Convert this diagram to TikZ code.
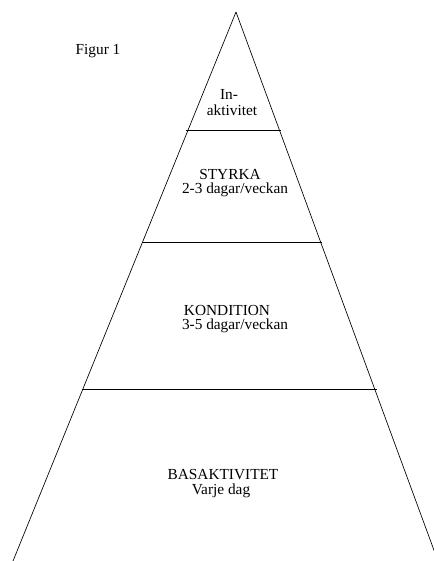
\documentclass[tikz,border=0pt]{standalone}
\usepackage{fontspec}
\setmainfont{Liberation Serif}
\begin{document}
\begin{tikzpicture}[x=0.75pt, y=-0.75pt,
    txt/.style={inner sep=0pt, font=\fontsize{11.5}{13}\selectfont}]
    	\useasboundingbox (0, 0) rectangle (434, 561);
    	\clip (0, 0) rectangle (434, 561);
    	% pyramid sides
    	\coordinate (top) at (236, 12);
    	\draw[line width=0.5pt]	(top) -- (13, 561);
    	\draw[line width=0.5pt]	(top) -- (435, 553);
    	% levels
    	\draw[line width=0.5pt]	(186, 130) -- (281, 130);
    	\draw[line width=0.5pt]	(142, 242) -- (322, 242);
    	\draw[line width=0.5pt]	(82, 389) -- (377, 389);
    	% texts
    	\node[txt] (fig)  at (98, 51)   {Figur 1};
    	\node[txt] (in1)  at (229, 94)  {In-};
    	\node[txt] (in2)  at (232, 110) {aktivitet};
    	\node[txt] (st1)  at (230, 174) {STYRKA};
    	\node[txt] (st2)  at (235, 190) {2-3 dagar/veckan};
    	\node[txt] (ko1)  at (227, 310) {KONDITION};
    	\node[txt] (ko2)  at (235, 326) {3-5 dagar/veckan};
    	\node[txt] (ba1)  at (223, 475) {BASAKTIVITET};
    	\node[txt] (ba2)  at (221, 491) {Varje dag};
\end{tikzpicture}
\end{document}
